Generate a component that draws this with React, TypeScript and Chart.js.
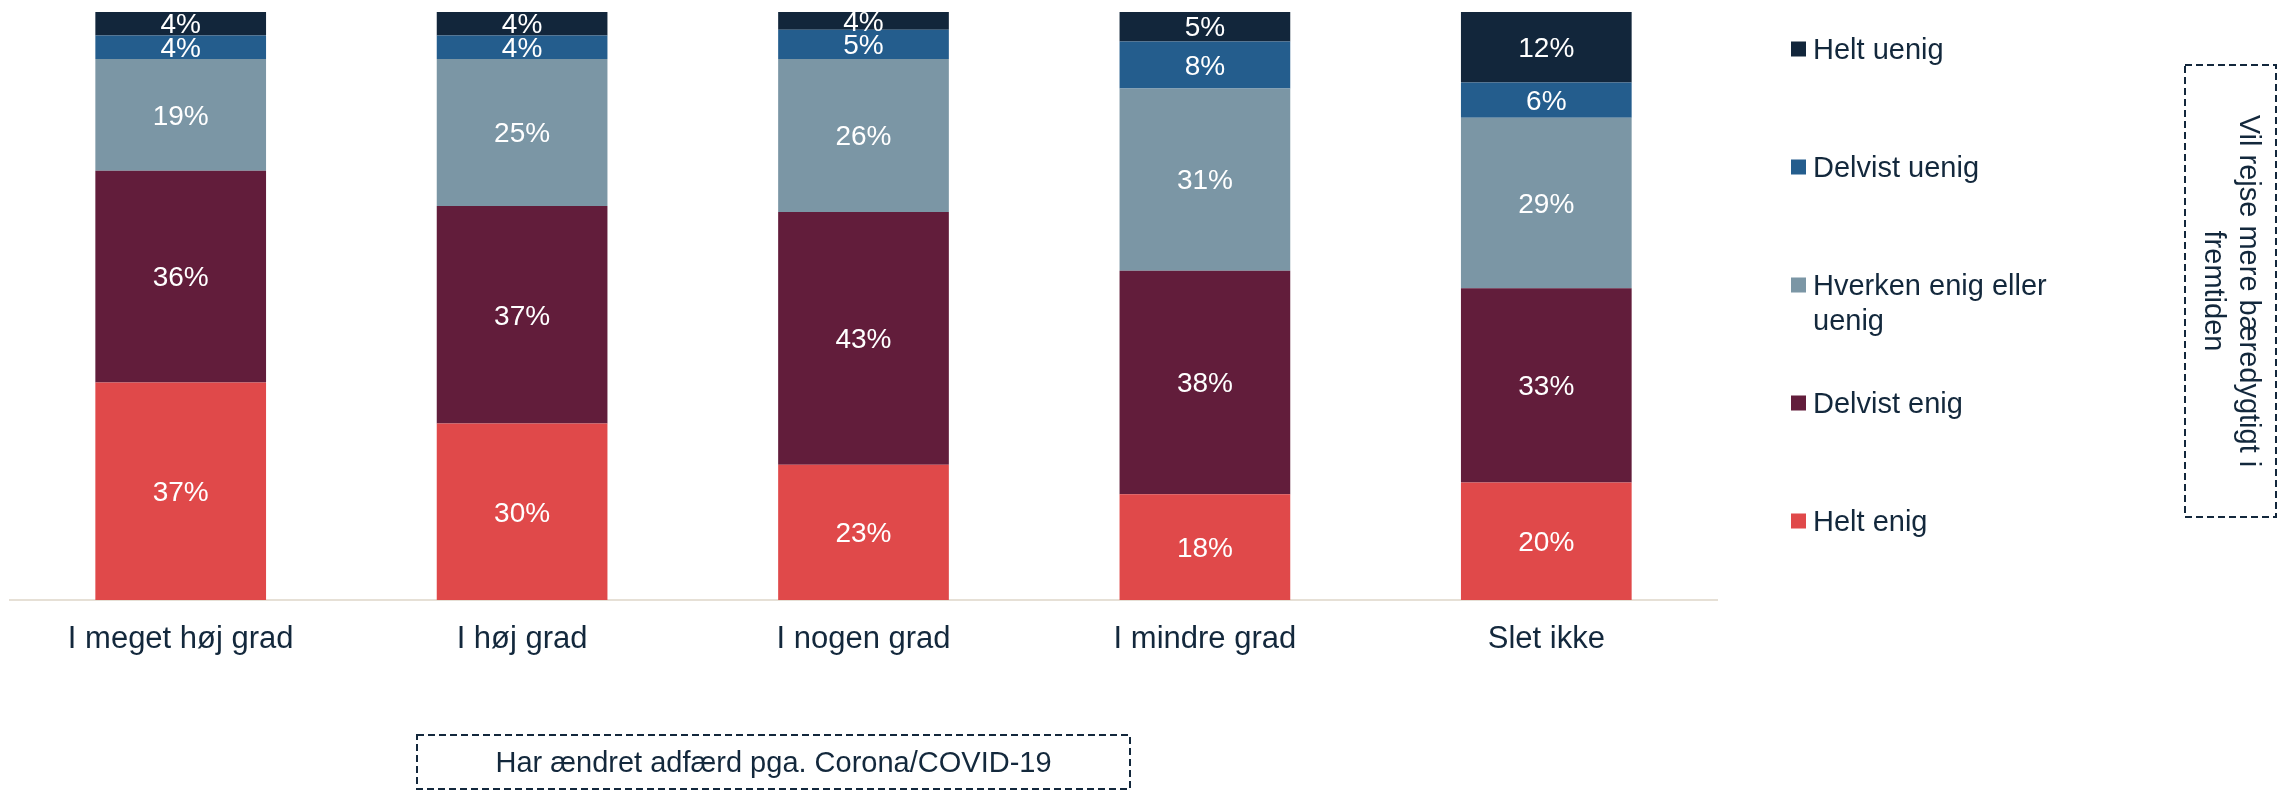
import React, { useEffect, useRef } from "react";
import { Chart, registerables } from "chart.js";

Chart.register(...registerables);

// ---------- data ----------
const categories = ["I meget høj grad", "I høj grad", "I nogen grad", "I mindre grad", "Slet ikke"];
const seriesNames = ["Helt enig", "Delvist enig", "Hverken enig eller uenig", "Delvist uenig", "Helt uenig"];
const heltEnig = [37, 30, 23, 18, 20];
const delvistEnig = [36, 37, 43, 38, 33];
const hverken = [19, 25, 26, 31, 29];
const delvistUenig = [4, 4, 5, 8, 6];
const heltUenig = [4, 4, 4, 5, 12];
const seriesColors = ["#e0494a", "#621d3b", "#7b96a5", "#245d8d", "#12263b"];
const xAxisTitle = "Har ændret adfærd pga. Corona/COVID-19";
const sideTitleLines = ["Vil rejse mere bæredygtigt i", "fremtiden"];

const FONT = '"Liberation Sans", Arial, Helvetica, sans-serif';
const NAVY = "#13283c";

const labelsPlugin = {
  id: "segLabels",
  afterDatasetsDraw(chart: any) {
    const ctx = chart.ctx;
    const area = chart.chartArea;
    ctx.save();
    ctx.font = `28px ${FONT}`;
    ctx.fillStyle = "#ffffff";
    ctx.textAlign = "center";
    ctx.textBaseline = "middle";
    chart.data.datasets.forEach((ds: any, di: number) => {
      const meta = chart.getDatasetMeta(di);
      meta.data.forEach((el: any, i: number) => {
        const v = ds.data[i];
        const top = Math.max(el.y, area.top);
        const cy = (top + el.base) / 2 + 2;
        ctx.fillText(`${v}%`, el.x, cy);
      });
    });
    ctx.restore();
  },
};

function wrap(ctx: CanvasRenderingContext2D, text: string, maxW: number): string[] {
  const words = text.split(" ");
  const lines: string[] = [];
  let cur = "";
  for (const w of words) {
    const t = cur ? cur + " " + w : w;
    if (ctx.measureText(t).width > maxW && cur) {
      lines.push(cur);
      cur = w;
    } else cur = t;
  }
  if (cur) lines.push(cur);
  return lines;
}

const decorPlugin = {
  id: "decor",
  afterDraw(chart: any) {
    const ctx: CanvasRenderingContext2D = chart.ctx;
    const area = chart.chartArea;
    ctx.save();
    // legend (reversed order: top item = last dataset)
    ctx.font = `29px ${FONT}`;
    ctx.textBaseline = "middle";
    ctx.textAlign = "left";
    const ds = chart.data.datasets;
    const n = ds.length;
    const lx = area.right + 74;
    const y0 = 49;
    const step = 118;
    for (let k = 0; k < n; k++) {
      const d = ds[n - 1 - k];
      const cy = y0 + k * step;
      ctx.fillStyle = d.backgroundColor;
      ctx.fillRect(lx, cy - 7.5, 15, 15);
      ctx.fillStyle = NAVY;
      const lines = wrap(ctx, d.label, 260);
      lines.forEach((ln, j) => ctx.fillText(ln, lx + 22, cy + 1.5 + j * 35));
    }

    // dashed boxes
    ctx.strokeStyle = NAVY;
    ctx.lineWidth = 2;
    ctx.setLineDash([7, 4]);
    ctx.strokeRect(417, 735, 713, 54);
    ctx.strokeRect(2185, 65, 91, 452);
    ctx.setLineDash([]);

    ctx.fillStyle = NAVY;
    ctx.font = `29px ${FONT}`;
    ctx.textAlign = "center";
    ctx.textBaseline = "middle";
    ctx.fillText(xAxisTitle, 773.5, 764);

    ctx.save();
    ctx.translate(2230.5, 291);
    ctx.rotate(Math.PI / 2);
    sideTitleLines.forEach((ln, j) => {
      ctx.fillText(ln, 0, -17.5 + j * 35);
    });
    ctx.restore();
    ctx.restore();
  },
};

export default function App() {
  const ref = useRef<HTMLCanvasElement>(null);
  useEffect(() => {
    if (!ref.current) return;
    const values = [heltEnig, delvistEnig, hverken, delvistUenig, heltUenig];
    const chart = new Chart(ref.current, {
      type: "bar",
      data: {
        labels: categories,
        datasets: values.map((arr, i) => ({
          label: seriesNames[i],
          data: arr,
          backgroundColor: seriesColors[i],
          borderWidth: 0,
          barPercentage: 0.5,
          categoryPercentage: 1,
        })),
      },
      options: {
        responsive: false,
        animation: false,
        layout: { padding: { left: 10, right: 575, top: 12, bottom: 0 } },
        plugins: { legend: { display: false }, tooltip: { enabled: false } },
        scales: {
          x: {
            stacked: true,
            grid: { display: false, drawTicks: false },
            border: { display: true, color: "#e6e0d6", width: 2 },
            ticks: { color: NAVY, font: { family: FONT, size: 31 }, padding: 21, maxRotation: 0, autoSkip: false },
            afterFit: (scale: any) => {
              scale.height = 193;
            },
          },
          y: {
            stacked: true,
            display: false,
            min: 0,
            max: 100,
          },
        },
      },
      plugins: [labelsPlugin, decorPlugin],
    });
    return () => chart.destroy();
  }, []);
  return (
    <div style={{ position: "fixed", left: 0, top: 0, width: 2292, height: 793, background: "#ffffff" }}>
      <canvas ref={ref} width={2292} height={793} style={{ width: 2292, height: 793, display: "block" }} />
    </div>
  );
}
